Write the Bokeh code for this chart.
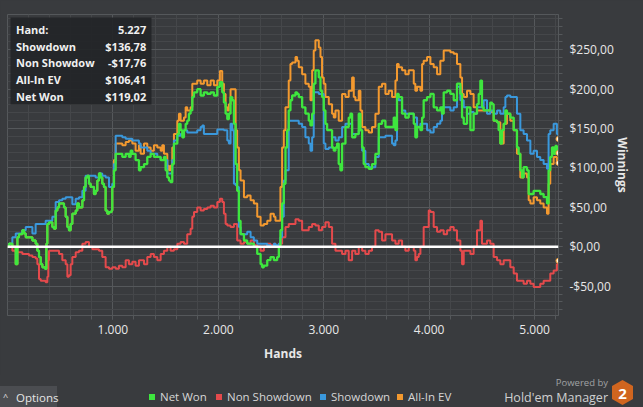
from bokeh.plotting import figure
from bokeh.layouts import column
from bokeh.models import (Range1d, FixedTicker, Span, Label, BoxAnnotation, Div, GlobalInlineStyleSheet)
from bokeh.embed import file_html
from bokeh.resources import INLINE

# ---------------- data ----------------
x_major = [1000, 2000, 3000, 4000, 5000]
x_labels = ["1.000", "2.000", "3.000", "4.000", "5.000"]
y_major = [-50, 0, 50, 100, 150, 200, 250]
y_labels = ["-$50,00", "$0,00", "$50,00", "$100,00", "$150,00", "$200,00", "$250,00"]
x_minor = [200 * i for i in range(1, 27)]
y_minor = [10 * i for i in range(-8, 30)]
total_hands = 5227
series_names = ["Net Won", "Non Showdown", "Showdown", "All-In EV"]

net_hands = [0, 15, 46, 78, 94, 109, 141, 157, 173, 204, 236, 267, 283, 299, 315, 331, 356, 369, 378, 394,
             410, 425, 441, 457, 473, 489, 520, 536, 552, 568, 583, 599, 615, 647, 662, 678, 710, 726, 741, 757,
             773, 789, 805, 820, 836, 852, 868, 884, 899, 915, 931, 947, 963, 988, 994, 1010, 1026, 1057, 1089, 1121,
             1152, 1168, 1184, 1215, 1247, 1263, 1295, 1326, 1358, 1389, 1421, 1453, 1484, 1500, 1516, 1532, 1547, 1563, 1579, 1611,
             1626, 1642, 1658, 1674, 1690, 1705, 1721, 1737, 1753, 1769, 1800, 1832, 1863, 1895, 1927, 1958, 1990, 2015, 2037, 2053,
             2069, 2085, 2100, 2116, 2132, 2148, 2164, 2179, 2195, 2211, 2243, 2274, 2306, 2337, 2369, 2401, 2416, 2432, 2464, 2495,
             2527, 2542, 2558, 2574, 2589, 2605, 2621, 2637, 2653, 2668, 2684, 2700, 2732, 2747, 2763, 2795, 2826, 2858, 2874, 2890,
             2905, 2921, 2953, 2969, 2984, 3000, 3016, 3032, 3048, 3079, 3095, 3111, 3127, 3142, 3158, 3174, 3206, 3237, 3253, 3269,
             3300, 3332, 3348, 3364, 3379, 3395, 3427, 3458, 3490, 3522, 3553, 3585, 3616, 3648, 3664, 3680, 3695, 3711, 3743, 3774,
             3806, 3822, 3854, 3869, 3885, 3917, 3933, 3948, 3980, 4012, 4043, 4075, 4106, 4122, 4138, 4170, 4201, 4233, 4264, 4296,
             4312, 4328, 4359, 4391, 4407, 4422, 4454, 4470, 4486, 4501, 4517, 4549, 4580, 4596, 4612, 4644, 4659, 4675, 4691, 4707,
             4723, 4738, 4770, 4802, 4833, 4849, 4865, 4881, 4896, 4928, 4944, 4960, 4991, 5023, 5054, 5086, 5118, 5133, 5149, 5165,
             5181, 5197, 5212, 5227]
net_won = [0, 4, 0, -22, 12, 16, 21, 17, 12, 12, 8, 4, -5, -13, -22, -26, -28, 4, 29, 31,
           31, 25, 23, 46, 50, 55, 55, 50, 38, 25, 21, 29, 42, 46, 55, 50, 59, 76, 88, 90,
           80, 76, 76, 67, 71, 84, 93, 88, 80, 76, 46, 42, 44, 46, 76, 97, 118, 118, 114, 118,
           114, 122, 118, 110, 97, 101, 105, 114, 118, 114, 114, 110, 114, 97, 88, 84, 82, 105, 131, 143,
           156, 148, 139, 148, 156, 160, 169, 173, 190, 196, 200, 192, 196, 194, 196, 192, 203, 209, 196, 183,
           169, 162, 169, 190, 186, 156, 105, 71, 33, 16, 8, 4, 4, 0, -9, -22, -26, -24, -17, -13,
           -17, -17, -13, 0, 21, 55, 80, 126, 148, 173, 186, 192, 196, 194, 190, 177, 169, 160, 154, 169,
           207, 224, 215, 198, 190, 173, 156, 148, 148, 126, 122, 126, 131, 105, 97, 131, 152, 164, 169, 139,
           143, 169, 148, 126, 105, 101, 99, 105, 118, 156, 160, 152, 152, 152, 164, 148, 194, 190, 169, 164,
           169, 169, 156, 139, 152, 148, 164, 186, 190, 194, 177, 173, 177, 169, 196, 198, 194, 186, 207, 194,
           164, 156, 177, 148, 148, 169, 181, 194, 211, 177, 173, 173, 183, 181, 160, 158, 148, 131, 148, 156,
           173, 169, 164, 148, 126, 118, 97, 88, 101, 97, 67, 67, 71, 71, 67, 63, 55, 97, 114, 126,
           118, 128, 118, 119.02]

sd_hands = [0, 15, 46, 78, 109, 141, 173, 204, 236, 267, 299, 331, 362, 394, 425, 457, 489, 520, 552, 583,
            615, 647, 678, 710, 741, 773, 805, 836, 868, 899, 931, 963, 994, 1010, 1026, 1057, 1089, 1121, 1152, 1184,
            1247, 1263, 1295, 1326, 1358, 1389, 1421, 1453, 1484, 1516, 1547, 1563, 1579, 1611, 1642, 1674, 1705, 1737, 1769, 1800,
            1832, 1848, 1863, 1895, 1927, 1958, 1990, 2021, 2053, 2085, 2100, 2116, 2132, 2148, 2164, 2179, 2195, 2211, 2243, 2274,
            2306, 2337, 2369, 2401, 2432, 2464, 2495, 2527, 2542, 2574, 2589, 2605, 2621, 2637, 2668, 2700, 2732, 2763, 2795, 2826,
            2858, 2874, 2890, 2905, 2921, 2953, 2984, 3000, 3016, 3048, 3079, 3111, 3142, 3174, 3206, 3237, 3269, 3300, 3332, 3364,
            3395, 3427, 3458, 3490, 3522, 3553, 3585, 3616, 3648, 3664, 3680, 3695, 3711, 3743, 3774, 3806, 3822, 3854, 3885, 3917,
            3948, 3980, 4012, 4043, 4075, 4106, 4122, 4138, 4170, 4201, 4233, 4264, 4296, 4328, 4359, 4391, 4422, 4454, 4486, 4517,
            4549, 4580, 4612, 4644, 4675, 4707, 4723, 4738, 4770, 4802, 4833, 4865, 4896, 4928, 4960, 4991, 5023, 5054, 5086, 5118,
            5133, 5149, 5181, 5212, 5227]
showdown = [0, 4, 12, 17, 17, 21, 25, 25, 17, 29, 29, 29, 33, 33, 38, 57, 59, 61, 63, 63,
            54, 61, 63, 71, 90, 90, 90, 88, 93, 90, 88, 76, 80, 105, 141, 141, 139, 137, 137, 135,
            131, 126, 126, 122, 118, 118, 114, 110, 110, 93, 93, 110, 135, 141, 143, 148, 145, 145, 145, 148,
            152, 154, 143, 143, 143, 143, 149, 149, 148, 135, 131, 156, 148, 80, 78, 76, 25, 16, 16, 19,
            12, 8, 4, 4, 4, 2, 0, 4, 2, 4, 12, 38, 84, 97, 160, 160, 160, 156, 152, 139,
            131, 122, 139, 196, 196, 194, 194, 131, 124, 126, 139, 135, 139, 152, 156, 156, 143, 143, 148, 122,
            105, 101, 101, 114, 139, 139, 141, 141, 131, 129, 135, 190, 186, 173, 169, 169, 169, 164, 152, 156,
            156, 148, 145, 152, 156, 160, 177, 177, 177, 173, 177, 203, 186, 177, 169, 171, 169, 177, 177, 186,
            169, 173, 169, 173, 169, 177, 190, 192, 190, 190, 169, 148, 143, 135, 118, 122, 114, 110, 105, 99,
            143, 148, 156, 143, 136.78]

nsd_hands = [0, 15, 46, 78, 109, 141, 173, 204, 236, 267, 283, 299, 315, 331, 362, 378, 387, 394, 425, 457,
             489, 520, 552, 568, 583, 599, 615, 647, 678, 710, 741, 757, 773, 805, 836, 868, 899, 931, 963, 994,
             1026, 1057, 1089, 1121, 1152, 1184, 1215, 1247, 1263, 1295, 1326, 1358, 1389, 1421, 1453, 1484, 1516, 1547, 1579, 1611,
             1642, 1674, 1705, 1737, 1753, 1769, 1800, 1832, 1863, 1895, 1927, 1958, 1990, 2015, 2037, 2053, 2069, 2085, 2116, 2148,
             2179, 2211, 2243, 2274, 2306, 2337, 2369, 2401, 2432, 2464, 2495, 2527, 2542, 2574, 2605, 2637, 2668, 2700, 2732, 2763,
             2795, 2826, 2858, 2890, 2921, 2953, 2984, 3016, 3048, 3079, 3111, 3142, 3174, 3206, 3237, 3269, 3300, 3332, 3364, 3395,
             3427, 3458, 3490, 3522, 3553, 3585, 3616, 3648, 3680, 3711, 3743, 3774, 3806, 3822, 3854, 3869, 3885, 3901, 3917, 3948,
             3980, 3996, 4012, 4043, 4075, 4106, 4138, 4170, 4201, 4233, 4264, 4296, 4312, 4328, 4359, 4391, 4422, 4454, 4486, 4501,
             4517, 4549, 4580, 4612, 4644, 4675, 4707, 4738, 4770, 4802, 4833, 4865, 4896, 4928, 4960, 4991, 5023, 5054, 5086, 5118,
             5149, 5181, 5212, 5227]
non_showdown = [0, 0, -5, -7, -7, -9, -9, -11, -13, -15, -22, -41, -43, -43, -45, -38, -17, -5, -5, -5,
                -9, -17, -22, -38, -36, -22, -13, -7, -5, 4, 6, 6, 0, -3, -3, -5, -13, -26, -28, -26,
                -28, -24, -26, -17, -22, -19, -24, -17, -17, -22, -13, -9, -13, -17, -9, -5, 0, -5, -3, 4,
                6, 4, 16, 23, 38, 44, 50, 46, 48, 50, 52, 50, 57, 61, 57, 42, 29, 27, 25, 29,
                8, 4, 6, 4, 8, 2, 0, -5, 0, 4, 2, 4, 0, 4, 12, 25, 29, 29, 35, 33,
                21, 21, 25, 29, 27, 21, 25, 31, 25, 4, -5, -5, -9, -5, -17, -5, -9, 0, -5, -9,
                -5, 0, 21, 19, 8, 16, 16, 8, 4, 8, 0, -5, 0, 0, -5, -17, -13, -9, 0, 25,
                25, 46, 44, 25, 19, 21, 16, 21, 25, 21, 8, -5, -22, -5, -5, -9, 0, 21, 33, 4,
                4, 8, 4, -13, -17, -22, -17, -17, -26, -34, -43, -43, -47, -43, -47, -51, -51, -47, -43, -43,
                -34, -30, -22, -17.76]

# All-In EV lies under Net Won until the first all-in swing near hand 1.000
ev_hands_late = [1010, 1026, 1057, 1089, 1121, 1152, 1184, 1215, 1247, 1263, 1295, 1326, 1358, 1389, 1421, 1453, 1468, 1484, 1516, 1532,
                 1547, 1563, 1579, 1611, 1626, 1642, 1674, 1690, 1705, 1737, 1753, 1769, 1800, 1832, 1863, 1895, 1927, 1958, 1990, 2015,
                 2037, 2053, 2069, 2085, 2100, 2116, 2148, 2164, 2179, 2195, 2211, 2243, 2274, 2306, 2337, 2369, 2401, 2432, 2464, 2495,
                 2527, 2542, 2574, 2589, 2605, 2621, 2637, 2668, 2684, 2700, 2732, 2747, 2763, 2795, 2826, 2858, 2874, 2890, 2905, 2921,
                 2953, 2969, 2984, 3000, 3016, 3048, 3079, 3095, 3111, 3142, 3174, 3206, 3237, 3269, 3285, 3300, 3332, 3348, 3364, 3395,
                 3427, 3458, 3490, 3522, 3553, 3585, 3616, 3648, 3680, 3695, 3711, 3743, 3774, 3806, 3822, 3854, 3869, 3885, 3917, 3933,
                 3948, 3980, 4012, 4043, 4075, 4106, 4138, 4170, 4201, 4233, 4264, 4296, 4312, 4328, 4359, 4391, 4422, 4454, 4486, 4517,
                 4549, 4580, 4612, 4644, 4675, 4707, 4738, 4770, 4802, 4833, 4865, 4896, 4928, 4944, 4960, 4991, 5023, 5054, 5086, 5118,
                 5133, 5149, 5181, 5212, 5227]
allin_ev_late = [110, 131, 131, 129, 133, 135, 131, 122, 129, 118, 131, 126, 122, 129, 126, 122, 129, 118, 103, 97,
                 103, 126, 143, 160, 169, 160, 164, 177, 173, 177, 207, 207, 211, 207, 211, 205, 211, 205, 211, 223,
                 207, 194, 177, 173, 181, 200, 200, 148, 126, 97, 84, 63, 65, 59, 55, 38, 27, 29, 33, 42,
                 38, 33, 33, 76, 126, 148, 177, 211, 232, 234, 241, 236, 228, 219, 207, 203, 186, 224, 249, 262,
                 253, 241, 215, 207, 190, 181, 169, 164, 173, 160, 194, 190, 198, 215, 190, 186, 198, 173, 152, 148,
                 145, 152, 169, 203, 207, 194, 198, 190, 211, 232, 228, 224, 219, 224, 224, 207, 198, 203, 198, 232,
                 236, 241, 232, 228, 219, 236, 249, 249, 247, 245, 232, 215, 194, 190, 198, 194, 177, 173, 173, 173,
                 173, 171, 160, 158, 131, 156, 169, 160, 148, 118, 88, 93, 88, 59, 55, 63, 59, 55, 50, 42,
                 80, 105, 114, 105, 106.41]

ev_hands = [h for h in net_hands if h < ev_hands_late[0]] + ev_hands_late
allin_ev = [v for h, v in zip(net_hands, net_won) if h < ev_hands_late[0]] + allin_ev_late

for a, b in [(net_hands, net_won), (sd_hands, showdown), (nsd_hands, non_showdown), (ev_hands, allin_ev)]:
    assert len(a) == len(b), (len(a), len(b))

# ---------------- styling ----------------
BG = "#393b3e"
FRAME = "#55585b"
MINOR = "#45474a"
TXT = "#e8e8e8"
GREEN = "#3ee63e"
RED = "#e44a4c"
BLUE = "#3a98dc"
ORANGE = "#f3992f"
FONT = "Open Sans"
FOOT_H = 32

p = figure(width=643, height=407 - FOOT_H, x_range=Range1d(0, total_hands), y_range=Range1d(-87.2, 294.8),
           y_axis_location="right", output_backend="svg", toolbar_location=None,
           background_fill_color=BG, border_fill_color=BG,
           min_border_left=7, min_border_top=14, min_border_right=85, min_border_bottom=60)
p.outline_line_color = FRAME

xt = FixedTicker(ticks=x_major, minor_ticks=x_minor)
yt = FixedTicker(ticks=y_major, minor_ticks=y_minor)
p.xaxis.ticker = xt
p.yaxis.ticker = yt
p.xgrid.ticker = xt
p.ygrid.ticker = yt
p.xaxis.major_label_overrides = {t: s for t, s in zip(x_major, x_labels)}
p.yaxis.major_label_overrides = {t: s for t, s in zip(y_major, y_labels)}

for g in (p.xgrid, p.ygrid):
    g.grid_line_color = FRAME
    g.minor_grid_line_color = MINOR
    g.grid_line_width = 1

for ax in (p.xaxis, p.yaxis):
    ax.axis_line_color = FRAME
    ax.major_tick_line_color = FRAME
    ax.minor_tick_line_color = FRAME
    ax.major_tick_out = 4
    ax.major_tick_in = 0
    ax.minor_tick_out = 4
    ax.minor_tick_in = 0
    ax.major_label_text_color = TXT
    ax.major_label_text_font = FONT
    ax.major_label_text_font_size = "12px"
    ax.axis_label_text_color = TXT
    ax.axis_label_text_font = FONT
    ax.axis_label_text_font_size = "12px"
    ax.axis_label_text_font_style = "bold"

p.xaxis.axis_label = "Hands"
p.yaxis.axis_label = "Winnings"
p.xaxis.major_label_standoff = 5
p.xaxis.axis_label_standoff = 8
p.yaxis.major_label_standoff = 7
p.yaxis.axis_label_standoff = -3

# series (stair-like, as in the reference)
p.step(nsd_hands, non_showdown, line_color=RED, line_width=2, mode="after")
p.step(ev_hands, allin_ev, line_color=ORANGE, line_width=2, mode="after")
p.step(sd_hands, showdown, line_color=BLUE, line_width=2, mode="after")
p.step(net_hands, net_won, line_color=GREEN, line_width=2.3, mode="after")

p.add_layout(Span(location=0, dimension="width", line_color="white", line_width=2.5))

ends_x = [sd_hands[-1], nsd_hands[-1], ev_hands[-1], net_hands[-1]]
ends_y = [showdown[-1], non_showdown[-1], allin_ev[-1], net_won[-1]]
p.scatter(ends_x, ends_y, size=5, fill_color="#fff4dc", line_color=ORANGE, line_width=1)

# tooltip box (frame-relative screen units)
def money(v):
    s = "{:,.2f}".format(abs(v)).replace(",", " ").replace(".", ",").replace(" ", ".")
    return ("-$" if v < 0 else "$") + s

p.add_layout(BoxAnnotation(left=3, right=144, bottom=211, top=298, left_units="screen", right_units="screen",
                           bottom_units="screen", top_units="screen", fill_color="#232527", fill_alpha=0.92,
                           line_color=None))
rows = [("Hand:", "{:,}".format(total_hands).replace(",", ".")),
        ("Showdown", money(showdown[-1])),
        ("Non Showdow", money(non_showdown[-1])),
        ("All-In EV", money(allin_ev[-1])),
        ("Net Won", money(net_won[-1]))]
row_y = [286, 269.3, 252.7, 236, 218.7]
for (lab, val), yy in zip(rows, row_y):
    p.add_layout(Label(x=8.5, y=yy, x_units="screen", y_units="screen", text=lab, text_font=FONT,
                       text_font_size="11px", text_font_style="bold", text_color="#f0f0f0",
                       text_baseline="middle", text_align="left"))
    p.add_layout(Label(x=138.7, y=yy, x_units="screen", y_units="screen", text=val, text_font=FONT,
                       text_font_size="11px", text_font_style="bold", text_color="#f0f0f0",
                       text_baseline="middle", text_align="right"))

# ---------------- footer: legend, options button, logo (HTML) ----------------
colors = [GREEN, RED, BLUE, ORANGE]
sq_left = [149, 216, 320, 397]
tx_left = [160, 227, 331, 408]
parts = []
for name, c, sl, tl in zip(series_names, colors, sq_left, tx_left):
    parts.append('<div style="position:absolute;left:%dpx;top:19px;width:6px;height:6px;background:%s;"></div>' % (sl, c))
    parts.append('<span style="position:absolute;left:%dpx;top:14px;line-height:15px;font-size:11.5px;'
                 'color:#d6d6d6;white-space:nowrap;">%s</span>' % (tl, name))
parts.append('<div style="position:absolute;left:0;top:11px;width:57px;height:21px;background:#4b4d51;"></div>')
parts.append('<span style="position:absolute;left:3px;top:16px;line-height:12px;font-size:9px;color:#e0e0e0;">^</span>')
parts.append('<span style="position:absolute;left:16px;top:15px;line-height:15px;font-size:11.5px;color:#e6e6e6;">Options</span>')
parts.append('<span style="position:absolute;right:35px;top:1px;line-height:13px;font-size:9.5px;color:#a0a2a4;white-space:nowrap;">Powered by</span>')
parts.append('<span style="position:absolute;right:35px;top:15px;line-height:16px;font-size:12.5px;color:#cfd0d1;white-space:nowrap;">Hold&#39;em Manager</span>')
parts.append('<svg style="position:absolute;left:612px;top:5px;" width="21" height="25" viewBox="0 0 21 25">'
             '<polygon points="10.5,0 21,6 21,19 10.5,25 0,19 0,6" fill="#d0651f"/>'
             '<text x="10.5" y="18.5" text-anchor="middle" font-family="Open Sans" font-weight="bold" '
             'font-size="15" fill="white">2</text></svg>')
html = ('<div style="position:relative;width:643px;height:%dpx;overflow:hidden;background:%s;'
        'font-family:\'Open Sans\',sans-serif;">%s</div>' % (FOOT_H, BG, "".join(parts)))
footer = Div(text=html, width=643, height=FOOT_H, margin=0,
             styles={"background-color": BG, "overflow": "hidden"})

page = column(p, footer, spacing=0)
page.stylesheets = [GlobalInlineStyleSheet(css="html, body {margin:0; padding:0; background:%s; overflow:hidden;}" % BG)]

open("out.html", "w").write(file_html(page, INLINE))
